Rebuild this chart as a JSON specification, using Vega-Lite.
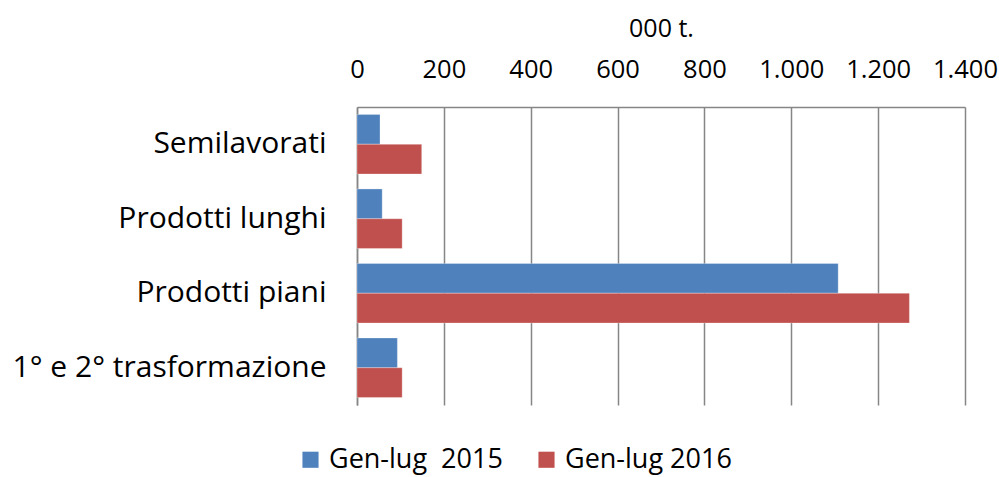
{
  "$schema": "https://vega.github.io/schema/vega-lite/v6.json",
  "width": 608,
  "height": 298,
  "autosize": {"type": "none"},
  "padding": {"left": 357, "top": 107, "right": 34, "bottom": 72},
  "background": "white",
  "config": {
    "font": "Open Sans",
    "view": {"stroke": null}
  },
  "data": {
    "values": [
      {"cat": "Semilavorati", "serie": "Gen-lug\u00a0 2015", "v": 53},
      {"cat": "Semilavorati", "serie": "Gen-lug 2016", "v": 149},
      {"cat": "Prodotti lunghi", "serie": "Gen-lug\u00a0 2015", "v": 58},
      {"cat": "Prodotti lunghi", "serie": "Gen-lug 2016", "v": 104},
      {"cat": "Prodotti piani", "serie": "Gen-lug\u00a0 2015", "v": 1108},
      {"cat": "Prodotti piani", "serie": "Gen-lug 2016", "v": 1272},
      {"cat": "1° e 2° trasformazione", "serie": "Gen-lug\u00a0 2015", "v": 93},
      {"cat": "1° e 2° trasformazione", "serie": "Gen-lug 2016", "v": 104}
    ]
  },
  "mark": {"type": "bar", "stroke": "white", "strokeWidth": 0.5, "strokeOpacity": 0.6},
  "encoding": {
    "y": {
      "field": "cat",
      "type": "nominal",
      "sort": ["Semilavorati", "Prodotti lunghi", "Prodotti piani", "1° e 2° trasformazione"],
      "scale": {"paddingInner": 0.2, "paddingOuter": 0.1},
      "axis": {
        "title": null,
        "labelFontSize": 30,
        "labelColor": "black",
        "labelPadding": 31,
        "ticks": false,
        "domainColor": "#868686",
        "domainWidth": 1.5,
        "labelLimit": 400
      }
    },
    "yOffset": {
      "field": "serie",
      "type": "nominal",
      "sort": ["Gen-lug\u00a0 2015", "Gen-lug 2016"]
    },
    "x": {
      "field": "v",
      "type": "quantitative",
      "scale": {"domain": [0, 1400], "nice": false},
      "axis": {
        "orient": "top",
        "title": "000 t.",
        "titleFontSize": 25,
        "titleFontWeight": "normal",
        "titleColor": "black",
        "titlePadding": 16,
        "values": [0, 200, 400, 600, 800, 1000, 1200, 1400],
        "labelExpr": "replace(format(datum.value, ','), ',', '.')",
        "labelFontSize": 25.5,
        "labelColor": "black",
        "labelPadding": 25,
        "labelFlush": false,
        "ticks": false,
        "grid": true,
        "gridColor": "#868686",
        "gridWidth": 1.5,
        "domainColor": "#868686",
        "domainWidth": 1.5
      }
    },
    "color": {
      "field": "serie",
      "type": "nominal",
      "sort": ["Gen-lug\u00a0 2015", "Gen-lug 2016"],
      "scale": {"range": ["#4F81BD", "#C0504D"]},
      "legend": {
        "title": null,
        "orient": "none",
        "direction": "horizontal",
        "legendX": -60,
        "legendY": 339,
        "symbolType": "square",
        "symbolSize": 260,
        "symbolStrokeWidth": 0,
        "labelFontSize": 27,
        "labelLimit": 400,
        "labelColor": "black",
        "columnPadding": 30,
        "labelOffset": 5
      }
    }
  }
}
